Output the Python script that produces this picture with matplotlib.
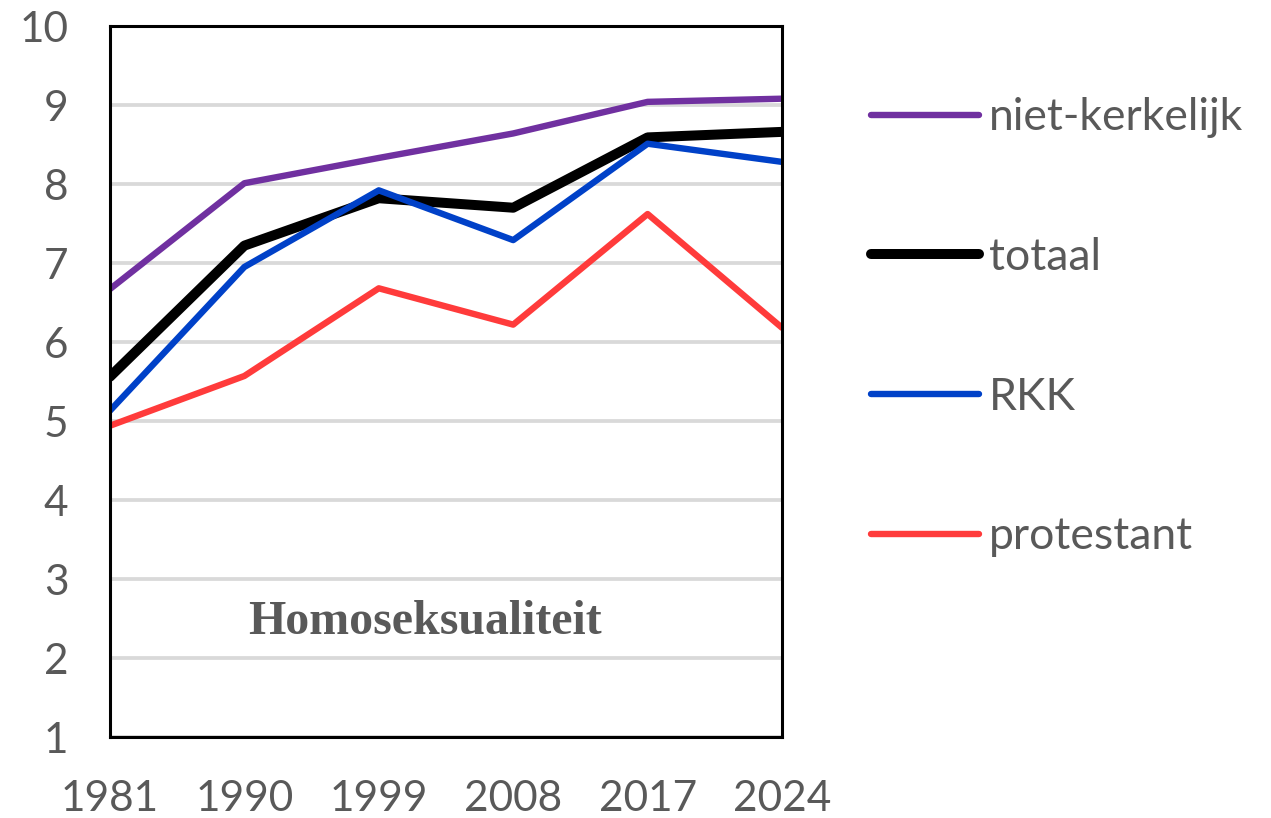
import matplotlib
matplotlib.use('Agg')
import matplotlib.pyplot as plt
import numpy as np

# data
years = ['1981', '1990', '1999', '2008', '2017', '2024']
niet_kerkelijk = [6.67, 8.01, 8.33, 8.64, 9.04, 9.08]
totaal = [5.56, 7.22, 7.82, 7.70, 8.59, 8.66]
rkk = [5.13, 6.95, 7.92, 7.29, 8.51, 8.28]
protestant = [4.94, 5.57, 6.68, 6.22, 7.62, 6.18]

series = [
    ('niet-kerkelijk', niet_kerkelijk, '#7030a0', 4.6),
    ('totaal', totaal, '#000000', 7.2),
    ('RKK', rkk, '#0041c8', 4.6),
    ('protestant', protestant, '#ff3b3b', 4.6),
]

plt.rcParams['font.family'] = ['Lato', 'DejaVu Sans']
grey = '#595959'

fig = plt.figure(figsize=(12.71, 8.18), dpi=100)
ax = fig.add_axes([0.0865, 0.099, 0.5288, 0.8692])

x = np.arange(len(years))
for name, vals, col, lw in series:
    ax.plot(x, vals, color=col, lw=lw, label=name, solid_capstyle='round',
            solid_joinstyle='round', zorder=3)

ax.set_xlim(0, len(years) - 1)
ax.set_ylim(1, 10)
ax.set_xticks(x)
ax.set_xticklabels(years)
ax.set_yticks(range(1, 11))
ax.tick_params(length=0, labelsize=30.5, colors=grey)
ax.tick_params(axis='y', pad=30)
ax.tick_params(axis='x', pad=31)
ax.yaxis.grid(True, color='#d9d9d9', lw=2.7, zorder=0)
for s in ax.spines.values():
    s.set_color('black')
    s.set_linewidth(2.2)
    s.set_zorder(4)

ax.text(0.469, 0.162, 'Homoseksualiteit', transform=ax.transAxes,
        ha='center', va='center', fontsize=34.5, fontweight='bold',
        family='Liberation Serif', color=grey)

leg = fig.legend(loc='upper left', bbox_to_anchor=(0.671, 0.9027), frameon=False,
                 fontsize=32, handlelength=2.43, handletextpad=0.23,
                 labelspacing=2.22, borderaxespad=0)
for t in leg.get_texts():
    t.set_color(grey)

fig.savefig('out.png', dpi=100)
plt.close()
print('Wrote: out.png')
